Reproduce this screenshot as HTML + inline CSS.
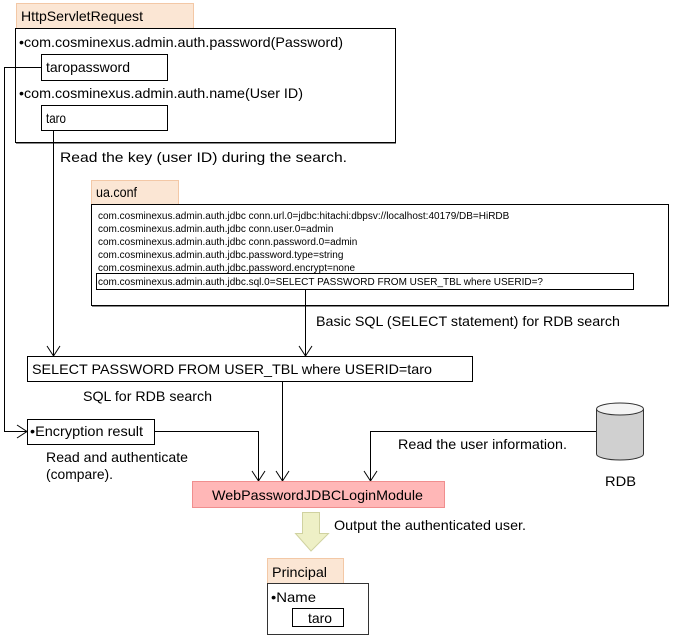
<!DOCTYPE html>
<html><head><meta charset="utf-8"><style>
html,body{margin:0;padding:0;background:#fff;}
svg{display:block;font-family:"Liberation Sans",Arial,sans-serif;}
</style></head><body>
<svg width="673" height="636" viewBox="0 0 673 636" xmlns="http://www.w3.org/2000/svg">
<g fill="none" stroke="#000" stroke-width="1">
<rect x="16.5" y="3.5" width="177" height="25" fill="#fbe6d4" stroke="#f3c8a6"/>
<rect x="15.5" y="28.5" width="380" height="114" fill="#fff"/>
<line x1="16" y1="143.5" x2="396" y2="143.5" stroke="#888"/>
<rect x="41.5" y="54.5" width="126" height="26" fill="#fff"/>
<rect x="41.5" y="105.5" width="126" height="25" fill="#fff"/>
<polyline points="41,67.5 4.5,67.5 4.5,431.5 26,431.5"/>
<polyline points="17,425 27,431.5 17,438"/>
<line x1="53.5" y1="130" x2="53.5" y2="355"/>
<polyline points="47,346 53.5,356 60,346"/>
<rect x="91.5" y="180.5" width="87" height="24" fill="#fbe6d4" stroke="#f3c8a6"/>
<rect x="91.5" y="204.5" width="577" height="101" fill="#fff"/>
<line x1="92" y1="306.5" x2="669" y2="306.5" stroke="#888"/>
<rect x="96.5" y="273.5" width="537" height="16"/>
<line x1="305.5" y1="289" x2="305.5" y2="355"/>
<polyline points="299,346 305.5,356 312,346"/>
<rect x="27.5" y="356.5" width="445" height="25" fill="#fff"/>
<line x1="282.5" y1="381" x2="282.5" y2="480"/>
<polyline points="276,471 282.5,481 289,471"/>
<rect x="27.5" y="419.5" width="127" height="25" fill="#fff"/>
<polyline points="154,431.5 258.5,431.5 258.5,480"/>
<polyline points="252,471 258.5,481 265,471"/>
<polyline points="596,431.5 370.5,431.5 370.5,480"/>
<polyline points="364,471 370.5,481 377,471"/>
<path d="M596.5,409 L596.5,454 A23.5,6 0 0 0 643.5,454 L643.5,409" fill="#d0d0d0" stroke="#333"/>
<ellipse cx="620" cy="409" rx="23.5" ry="6" fill="#f4f4f4" stroke="#333"/>
<rect x="192.5" y="481.5" width="252" height="26" fill="#ffb7b7" stroke="#f08e8e"/>
<polygon points="302.5,512.5 319.5,512.5 319.5,533.5 328.5,533.5 311,551 295.5,533.5 302.5,533.5" fill="#eef0c6" stroke="#d0d2a0"/>
<rect x="267.5" y="558.5" width="76" height="25" fill="#fbe6d4" stroke="#f3c8a6"/>
<rect x="267.5" y="583.5" width="101" height="51" fill="#fff" stroke="#333"/>
<rect x="292.5" y="608.5" width="51" height="18" fill="#fff"/>
</g>
<g fill="#000" font-size="14" lengthAdjust="spacingAndGlyphs">
<text x="21" y="21" textLength="122" lengthAdjust="spacingAndGlyphs">HttpServletRequest</text>
<text x="19" y="47" textLength="324" lengthAdjust="spacingAndGlyphs">•com.cosminexus.admin.auth.password(Password)</text>
<text x="46" y="72" textLength="84" lengthAdjust="spacingAndGlyphs">taropassword</text>
<text x="19" y="98" textLength="284" lengthAdjust="spacingAndGlyphs">•com.cosminexus.admin.auth.name(User ID)</text>
<text x="46" y="123" textLength="20" lengthAdjust="spacingAndGlyphs">taro</text>
<text x="60" y="162" textLength="287" lengthAdjust="spacingAndGlyphs">Read the key (user ID) during the search.</text>
<text x="96" y="197" textLength="41" lengthAdjust="spacingAndGlyphs">ua.conf</text>
<g font-size="10">
<text x="98" y="219">com.cosminexus.admin.auth.jdbc conn.url.0=jdbc:hitachi:dbpsv://localhost:40179/DB=HiRDB</text>
<text x="98" y="232">com.cosminexus.admin.auth.jdbc conn.user.0=admin</text>
<text x="98" y="245">com.cosminexus.admin.auth.jdbc conn.password.0=admin</text>
<text x="98" y="258">com.cosminexus.admin.auth.jdbc.password.type=string</text>
<text x="98" y="271">com.cosminexus.admin.auth.jdbc.password.encrypt=none</text>
<text x="98" y="285">com.cosminexus.admin.auth.jdbc.sql.0=SELECT PASSWORD FROM USER_TBL where USERID=?</text>
</g>
<text x="316" y="326" textLength="304" lengthAdjust="spacingAndGlyphs">Basic SQL (SELECT statement) for RDB search</text>
<text x="32" y="374" textLength="400" lengthAdjust="spacingAndGlyphs">SELECT PASSWORD FROM USER_TBL where USERID=taro</text>
<text x="83" y="401" textLength="129" lengthAdjust="spacingAndGlyphs">SQL for RDB search</text>
<text x="30" y="436" textLength="113" lengthAdjust="spacingAndGlyphs">•Encryption result</text>
<text x="46" y="462" textLength="142" lengthAdjust="spacingAndGlyphs">Read and authenticate</text>
<text x="46" y="479" textLength="67" lengthAdjust="spacingAndGlyphs">(compare).</text>
<text x="398" y="449" textLength="169" lengthAdjust="spacingAndGlyphs">Read the user information.</text>
<text x="605" y="486" textLength="31" lengthAdjust="spacingAndGlyphs">RDB</text>
<text x="212" y="500" textLength="211" lengthAdjust="spacingAndGlyphs">WebPasswordJDBCLoginModule</text>
<text x="334" y="530" textLength="192" lengthAdjust="spacingAndGlyphs">Output the authenticated user.</text>
<text x="272" y="577" textLength="55" lengthAdjust="spacingAndGlyphs">Principal</text>
<text x="271" y="602" textLength="45" lengthAdjust="spacingAndGlyphs">•Name</text>
<text x="308" y="623" textLength="24" lengthAdjust="spacingAndGlyphs">taro</text>
</g>
</svg>
</body></html>
